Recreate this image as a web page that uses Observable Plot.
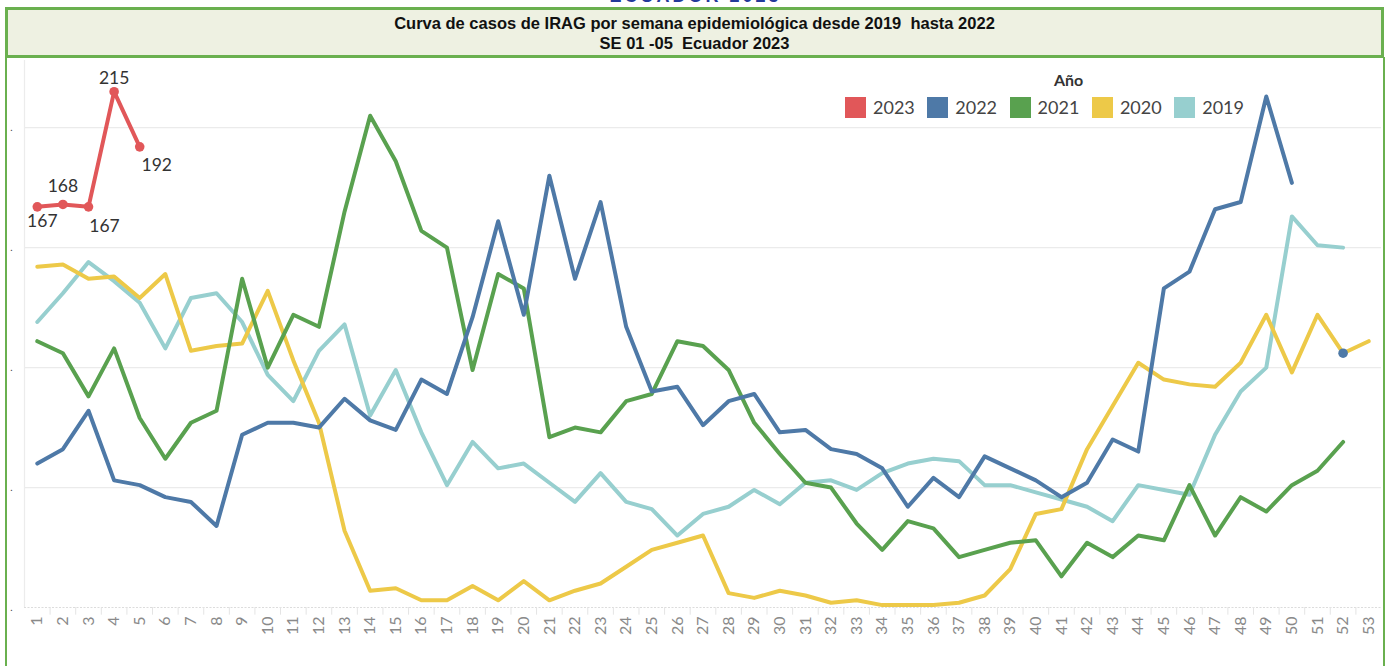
<!DOCTYPE html>
<html>
<head>
<meta charset="utf-8">
<script src="https://cdn.jsdelivr.net/npm/d3@7"></script>
<script src="https://cdn.jsdelivr.net/npm/@observablehq/plot@0.6"></script>
<style>
  html, body { margin: 0; padding: 0; background: #fff; }
  body { width: 1391px; height: 666px; position: relative; overflow: hidden; font-family: Lato, "Open Sans", sans-serif; }
  #toptext { position: absolute; left: 0; width: 1391px; top: -14px; text-align: center; font: bold 18px "Liberation Sans", Arial, sans-serif; color: #23399a; letter-spacing: 3px; }
  #titlebox { position: absolute; left: 5px; top: 7px; width: 1379px; height: 51px; box-sizing: border-box; border: 3px solid #6ab04f; background: #eef1e2; text-align: center; font: bold 16.5px "Liberation Sans", Arial, sans-serif; color: #111; padding-top: 3px; line-height: 20px; }
  .vline { position: absolute; top: 57px; width: 2px; height: 609px; background: #6ab04f; }
  #chart { position: absolute; left: 0; top: 58px; }
  #legend { position: absolute; left: 845px; top: 70px; }
  #legend .head { position: absolute; left: 209px; top: 0; font: bold 16px Lato, sans-serif; color: #333; }
  #legend .item { position: absolute; top: 26px; display: flex; align-items: center; font: 18px Lato, sans-serif; color: #444; }
  #legend .sw { width: 21px; height: 21px; margin-right: 7px; }
</style>
</head>
<body>
<div id="toptext">ECUADOR 2023</div>
<div id="titlebox">Curva de casos de IRAG por semana epidemiológica desde 2019&nbsp; hasta 2022<br>SE 01 -05&nbsp; Ecuador 2023</div>
<div class="vline" style="left:5px"></div>
<div class="vline" style="left:1383px"></div>
<div id="chart"></div>
<div id="legend"></div>
<script>
// ---- data ----
const weeks = d3.range(1, 54);
const years = ["2019", "2020", "2021", "2022", "2023"];
const legendOrder = ["2023", "2022", "2021", "2020", "2019"];
const yearColors = ["#97cfcf", "#edc948", "#59a14f", "#4e79a7", "#e15759"];

const cases2019 = [119,131,144,136,127,108,129,131,119,97,86,107,118,80,99,73,51,69,58,60,52,44,56,44,41,30,39,42,49,43,52,53,49,56,60,62,61,51,51,48,45,42,36,51,49,47,72,90,100,163,151,150];
const cases2020 = [142,143,137,138,129,139,107,109,110,132,103,77,32,7,8,3,3,9,3,11,3,7,10,17,24,27,30,6,4,7,5,2,3,1,1,1,2,5,16,39,41,66,84,102,95,93,92,102,122,98,122,106,111];
const cases2021 = [111,106,88,108,79,62,77,82,137,100,122,117,165,205,186,157,150,99,139,133,71,75,73,86,89,111,109,99,77,64,52,50,35,24,36,33,21,24,27,28,13,27,21,30,28,51,30,46,40,51,57,69];
const cases2022 = [60,66,82,53,51,46,44,34,72,77,77,75,87,78,74,95,89,121,161,122,180,137,169,117,90,92,76,86,89,73,74,66,64,58,42,54,46,63,58,53,46,52,70,65,133,140,166,169,213,177,null,106];
const cases2023 = [167,168,167,215,192];

const yTicks = [0, 50, 100, 150, 200];
// label offsets (px) for the 2023 value labels, by week
const labelOffsets = [[5, 15], [0, -18], [16, 20], [0, -13], [17, 19]];

// ---- build table ----
const series = [cases2019, cases2020, cases2021, cases2022, cases2023];
const rows = [];
series.forEach((vals, i) => {
  weeks.forEach((w, j) => {
    const v = vals[j];
    rows.push({week: w, value: (v === null || v === undefined) ? NaN : v, year: years[i]});
  });
});
const valid = d => Number.isFinite(d);
const dots = [];
series.forEach((vals, i) => {
  vals.forEach((v, j) => {
    if (!valid(v)) return;
    const isolated = !valid(vals[j - 1]) && !valid(vals[j + 1]);
    if (years[i] === "2023" || isolated) dots.push({week: j + 1, value: v, year: years[i]});
  });
});
const labels2023 = cases2023.map((v, j) => ({week: j + 1, value: v}));
const bounds = d3.range(1.5, 53.5, 1);

const colorScale = {domain: years, range: yearColors};

const chart = Plot.plot({
  width: 1391,
  height: 608,
  marginLeft: 24,
  marginRight: 10,
  marginTop: 2,
  marginBottom: 59,
  x: {type: "linear", domain: [0.5, 53.5]},
  y: {domain: [0, 228]},
  color: colorScale,
  style: {fontFamily: "Lato, 'Open Sans', sans-serif", background: "transparent"},
  marks: [
    Plot.gridY([50, 100, 150, 200], {stroke: "#ebebeb", strokeOpacity: 1, strokeWidth: 1.2}),
    Plot.ruleX([0.5], {stroke: "#ececec", strokeWidth: 1.2}),
    Plot.ruleY([0], {stroke: "#dcdcdc", strokeDasharray: "2,1.5", strokeWidth: 1.2}),
    Plot.ruleX(bounds, {x: d => d, y1: 0, y2: -3.2, stroke: "#e4e4e4"}),
    Plot.axisY({ticks: yTicks, tickFormat: () => ".", tickSize: 0, tickPadding: 12, fontSize: 10, fill: "#444", label: null}),
    Plot.axisX({ticks: weeks, tickFormat: d => String(d), tickRotate: -90, tickSize: 0, tickPadding: 9, fontSize: 16, fill: "#8a8a8a", label: null}),
    Plot.line(rows, {x: "week", y: "value", z: "year", stroke: "year", strokeWidth: 4, strokeLinejoin: "round", strokeLinecap: "round"}),
    Plot.dot(dots, {x: "week", y: "value", fill: "year", r: 4.8, stroke: "none"}),
    ...labels2023.map((d, i) => Plot.text([d], {
      x: "week", y: "value", text: d => String(d.value),
      dx: labelOffsets[i][0], dy: labelOffsets[i][1],
      fontSize: 17.5, fill: "#333", textAnchor: "middle"
    }))
  ]
});
document.getElementById("chart").appendChild(chart);

// ---- legend ----
const legend = document.getElementById("legend");
const head = document.createElement("div");
head.className = "head";
head.textContent = "Año";
legend.appendChild(head);
legendOrder.forEach((yr, i) => {
  const item = document.createElement("div");
  item.className = "item";
  item.style.left = (i * 82.3) + "px";
  const sw = document.createElement("div");
  sw.className = "sw";
  sw.style.background = yearColors[years.indexOf(yr)];
  const t = document.createElement("span");
  t.textContent = yr;
  item.appendChild(sw);
  item.appendChild(t);
  legend.appendChild(item);
});
</script>
</body>
</html>
